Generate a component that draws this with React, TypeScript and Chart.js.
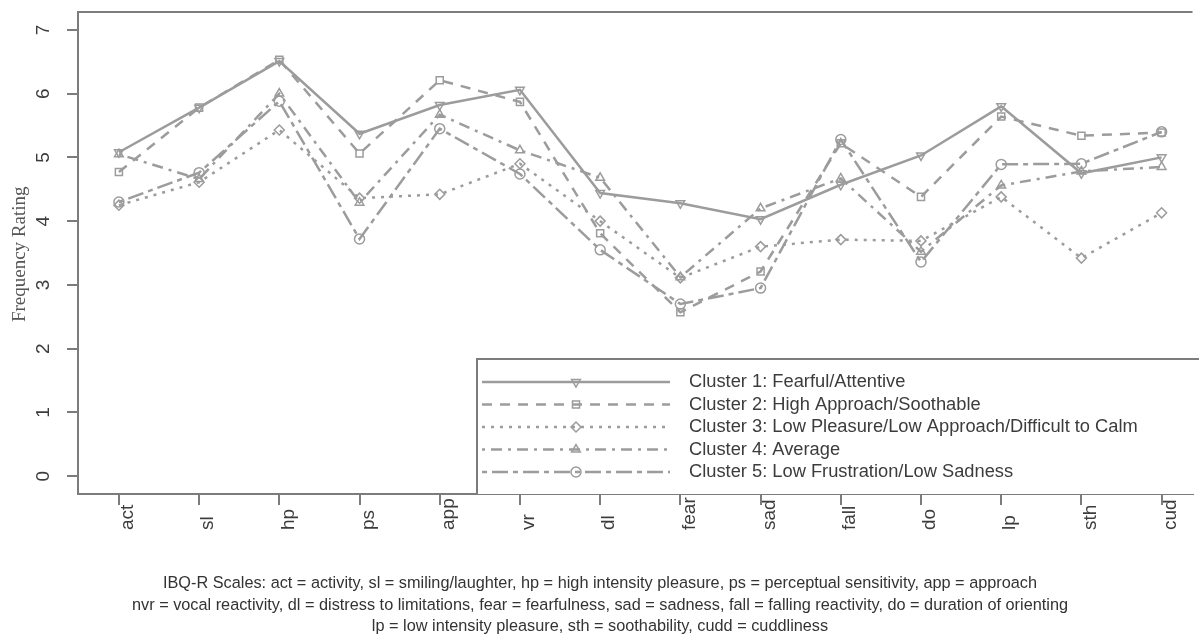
import React, { useEffect, useRef } from 'react';
import { Chart, registerables } from 'chart.js';
import { drawPoint } from 'chart.js/helpers';

Chart.register(...registerables);

const categories = ['act', 'sl', 'hp', 'ps', 'app', 'vr', 'dl', 'fear', 'sad', 'fall', 'do', 'lp', 'sth', 'cud'];

const cluster1 = [5.08, 5.78, 6.51, 5.37, 5.82, 6.06, 4.44, 4.28, 4.03, 4.57, 5.03, 5.80, 4.75, 5.00];
const cluster2 = [4.77, 5.78, 6.53, 5.06, 6.21, 5.87, 3.81, 2.57, 3.21, 5.22, 4.38, 5.64, 5.34, 5.39];
const cluster3 = [4.25, 4.61, 5.43, 4.36, 4.42, 4.90, 4.00, 3.11, 3.60, 3.71, 3.69, 4.38, 3.42, 4.13];
const cluster4 = [5.05, 4.66, 6.00, 4.29, 5.67, 5.11, 4.68, 3.12, 4.20, 4.67, 3.52, 4.56, 4.78, 4.85];
const cluster5 = [4.30, 4.76, 5.88, 3.72, 5.45, 4.74, 3.55, 2.70, 2.95, 5.28, 3.36, 4.89, 4.90, 5.40];

const seriesLabels = [
  'Cluster 1: Fearful/Attentive',
  'Cluster 2: High Approach/Soothable',
  'Cluster 3: Low Pleasure/Low Approach/Difficult to Calm',
  'Cluster 4: Average',
  'Cluster 5: Low Frustration/Low Sadness',
];

const yTickValues = [0, 1, 2, 3, 4, 5, 6, 7];
const yTitle = 'Frequency Rating';

const captionLines = [
  'IBQ-R Scales: act = activity, sl = smiling/laughter, hp = high intensity pleasure, ps = perceptual sensitivity, app = approach',
  'nvr = vocal reactivity, dl = distress to limitations, fear = fearfulness, sad = sadness, fall = falling reactivity, do = duration of orienting',
  'lp = low intensity pleasure, sth = soothability, cudd = cuddliness',
];

const LINE = '#9c9c9c';
const AXIS = '#7c7c7c';
const TEXT = '#3c3c3c';
const SANS = '"Liberation Sans", Arial, Helvetica, sans-serif';
const SERIF = '"Liberation Serif", "Times New Roman", serif';

const styles = [
  { dash: [] as number[], point: 'triangle', rotation: 180 },
  { dash: [10, 8], point: 'rect', rotation: 0 },
  { dash: [3, 6], point: 'rectRot', rotation: 0 },
  { dash: [3, 6, 11, 6], point: 'triangle', rotation: 0 },
  { dash: [5, 5, 16, 5], point: 'circle', rotation: 0 },
];

const allSeries = [cluster1, cluster2, cluster3, cluster4, cluster5];

const overlayPlugin = {
  id: 'overlay',
  afterDraw(chart: any) {
    const { ctx, chartArea, scales } = chart;
    const xs = scales.x;
    const ys = scales.y;
    ctx.save();

    // top border of plot box
    ctx.strokeStyle = AXIS;
    ctx.lineWidth = 2;
    ctx.setLineDash([]);
    ctx.beginPath();
    ctx.moveTo(chartArea.left - 1, chartArea.top);
    ctx.lineTo(chartArea.right, chartArea.top);
    ctx.stroke();

    // y tick labels (rotated)
    ctx.fillStyle = TEXT;
    ctx.font = `19px ${SANS}`;
    ctx.textAlign = 'center';
    ctx.textBaseline = 'middle';
    yTickValues.forEach((t) => {
      const py = ys.getPixelForValue(t);
      ctx.save();
      ctx.translate(chartArea.left - 34, py);
      ctx.rotate(-Math.PI / 2);
      ctx.fillText(String(t), 0, 0);
      ctx.restore();
    });

    // x tick labels (rotated, bottom aligned)
    ctx.textAlign = 'left';
    categories.forEach((c, i) => {
      const px = xs.getPixelForValue(i + 1);
      ctx.save();
      ctx.translate(px + 9, chartArea.bottom + 36);
      ctx.rotate(-Math.PI / 2);
      ctx.fillText(c, 0, 0);
      ctx.restore();
    });

    // y axis title
    ctx.save();
    ctx.fillStyle = '#555555';
    ctx.font = `19px ${SERIF}`;
    ctx.textAlign = 'center';
    ctx.translate(20, ys.getPixelForValue(3.48));
    ctx.rotate(-Math.PI / 2);
    ctx.fillText(yTitle, 0, 0);
    ctx.restore();

    // legend box
    const lx = 477;
    const ly = 359;
    ctx.fillStyle = '#ffffff';
    ctx.fillRect(lx, ly, chart.width - lx, chartArea.bottom - ly);
    ctx.strokeStyle = AXIS;
    ctx.lineWidth = 2;
    ctx.beginPath();
    ctx.moveTo(chart.width, ly);
    ctx.lineTo(lx, ly);
    ctx.lineTo(lx, chartArea.bottom);
    ctx.stroke();

    const rowY = [382, 404.5, 427, 449.5, 472];
    seriesLabels.forEach((label, i) => {
      const y = rowY[i];
      const st = styles[i];
      ctx.save();
      ctx.strokeStyle = LINE;
      ctx.lineWidth = 2.5;
      ctx.setLineDash(st.dash);
      ctx.beginPath();
      ctx.moveTo(482, y);
      ctx.lineTo(670, y);
      ctx.stroke();
      ctx.setLineDash([]);
      ctx.lineWidth = 1.5;
      ctx.strokeStyle = LINE;
      ctx.fillStyle = 'rgba(255,255,255,0)';
      drawPoint(ctx, { pointStyle: st.point, radius: 5, rotation: st.rotation, borderWidth: 1.5 } as any, 576, y);
      ctx.restore();
      ctx.fillStyle = TEXT;
      ctx.font = `18.3px ${SANS}`;
      ctx.textAlign = 'left';
      ctx.textBaseline = 'middle';
      ctx.fillText(label, 689, y);
    });

    // caption
    ctx.fillStyle = '#333333';
    ctx.font = `16.3px ${SANS}`;
    ctx.textAlign = 'center';
    ctx.textBaseline = 'middle';
    const cy = [584, 606, 627];
    captionLines.forEach((line, i) => {
      ctx.fillText(line, 600, cy[i]);
    });

    ctx.restore();
  },
};

export default function App() {
  const canvasRef = useRef<HTMLCanvasElement | null>(null);

  useEffect(() => {
    if (!canvasRef.current) return;
    const datasets = allSeries.map((vals, i) => ({
      label: seriesLabels[i],
      data: vals.map((v, j) => ({ x: j + 1, y: v })),
      borderColor: LINE,
      borderWidth: 2.5,
      borderDash: styles[i].dash,
      pointStyle: styles[i].point as any,
      pointRotation: styles[i].rotation,
      pointRadius: 5,
      pointBorderWidth: 1.5,
      pointBorderColor: LINE,
      pointBackgroundColor: 'rgba(255,255,255,0)',
      fill: false,
      tension: 0,
    }));

    const chart = new Chart(canvasRef.current, {
      type: 'line',
      data: { datasets },
      options: {
        responsive: false,
        animation: false,
        layout: { padding: { top: 12, left: 0, right: 0, bottom: 0 } },
        plugins: {
          legend: { display: false },
          tooltip: { enabled: false },
        },
        scales: {
          x: {
            type: 'linear',
            min: 0.49,
            max: 14.385,
            afterBuildTicks: (s: any) => {
              s.ticks = categories.map((_, i) => ({ value: i + 1 }));
            },
            afterFit: (s: any) => {
              s.height = 145;
            },
            ticks: { display: false },
            grid: { display: true, drawOnChartArea: false, drawTicks: true, tickLength: 11, color: AXIS, lineWidth: 2 },
            border: { display: true, color: AXIS, width: 2 },
          },
          y: {
            type: 'linear',
            min: -0.28,
            max: 7.28,
            afterBuildTicks: (s: any) => {
              s.ticks = yTickValues.map((v) => ({ value: v }));
            },
            afterFit: (s: any) => {
              s.width = 78;
            },
            ticks: { display: false },
            grid: { display: true, drawOnChartArea: false, drawTicks: true, tickLength: 11, color: AXIS, lineWidth: 2 },
            border: { display: true, color: AXIS, width: 2 },
          },
        },
      },
      plugins: [overlayPlugin],
    });
    return () => chart.destroy();
  }, []);

  return (
    <div style={{ position: 'absolute', left: 0, top: 0, width: 1199, height: 639, background: '#ffffff' }}>
      <canvas ref={canvasRef} width={1199} height={639} style={{ display: 'block' }} />
    </div>
  );
}
